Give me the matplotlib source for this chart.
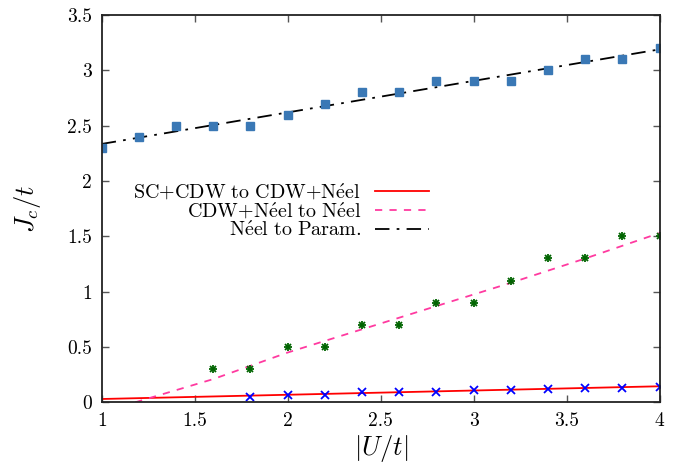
import numpy as np
import matplotlib
matplotlib.use('Agg')
import matplotlib.pyplot as plt

plt.rcParams['font.family'] = ['cmr10', 'DejaVu Serif']
plt.rcParams['mathtext.fontset'] = 'cm'
plt.rcParams['axes.formatter.use_mathtext'] = True
plt.rcParams['axes.unicode_minus'] = False

# Neel to Param. (squares + fit)
u_param = [1.0, 1.2, 1.4, 1.6, 1.8, 2.0, 2.2, 2.4, 2.6, 2.8, 3.0, 3.2, 3.4, 3.6, 3.8, 4.0]
j_param = [2.3, 2.4, 2.5, 2.5, 2.5, 2.6, 2.7, 2.8, 2.8, 2.9, 2.9, 2.9, 3.0, 3.1, 3.1, 3.2]
fit_param_u = [1.0, 4.0]
fit_param_j = [2.335, 3.19]

# CDW+Neel to Neel
u_neel = [1.6, 1.8, 2.0, 2.2, 2.4, 2.6, 2.8, 3.0, 3.2, 3.4, 3.6, 3.8, 4.0]
j_neel = [0.3, 0.3, 0.5, 0.5, 0.7, 0.7, 0.9, 0.9, 1.1, 1.3, 1.3, 1.5, 1.5]
fit_neel_u = [1.18, 1.6, 2.0, 2.4, 2.8, 3.2, 3.6, 4.0]
fit_neel_j = [0.0, 0.21, 0.45, 0.66, 0.87, 1.08, 1.30, 1.53]

# SC+CDW to CDW+Neel
u_sc = [1.8, 2.0, 2.2, 2.4, 2.6, 2.8, 3.0, 3.2, 3.4, 3.6, 3.8, 4.0]
j_sc = [0.05, 0.07, 0.07, 0.09, 0.09, 0.09, 0.11, 0.11, 0.12, 0.13, 0.13, 0.14]
fit_sc_u = [1.0, 4.0]
fit_sc_j = [0.03, 0.145]

labels = [r'$\mathrm{SC{+}CDW\ to\ CDW{+}N\acute{e}el}$',
          r'$\mathrm{CDW{+}N\acute{e}el\ to\ N\acute{e}el}$',
          r'$\mathrm{N\acute{e}el\ to\ Param.}$']

fig = plt.figure(figsize=(6.78, 4.70), dpi=100)
ax = fig.add_axes([0.150, 0.144, 0.823, 0.824])

ax.plot(fit_sc_u, fit_sc_j, color='#ff0000', lw=1.3, label=labels[0])
ax.plot(fit_neel_u, fit_neel_j, color='#ff3aa0', lw=1.3, ls=(0, (4, 4)), label=labels[1])
ax.plot(fit_param_u, fit_param_j, color='#000000', lw=1.3, ls=(0, (8, 4, 1.5, 4)), label=labels[2])

ax.plot(u_param, j_param, ls='none', marker='s', ms=5.2, color='#3a78b5')
ax.plot(u_neel, j_neel, ls='none', marker='x', ms=4.8, mew=1.3, color='#006400')
ax.plot(u_neel, j_neel, ls='none', marker='+', ms=5.8, mew=1.3, color='#006400')
ax.plot(u_sc, j_sc, ls='none', marker='x', ms=5.8, mew=1.3, color='#0000ff')

ax.set_xlim(1, 4)
ax.set_ylim(0, 3.5)
ax.set_xticks([1, 1.5, 2, 2.5, 3, 3.5, 4])
ax.set_xticklabels(['1', '1.5', '2', '2.5', '3', '3.5', '4'])
ax.set_yticks([0, 0.5, 1, 1.5, 2, 2.5, 3, 3.5])
ax.set_yticklabels(['0', '0.5', '1', '1.5', '2', '2.5', '3', '3.5'])
ax.tick_params(direction='in', top=True, right=True, length=5, width=1,
               color='#555555', labelsize=14, pad=7)
for s in ax.spines.values():
    s.set_linewidth(1.3)
    s.set_color('#222222')

ax.set_xlabel(r'$|U/t|$', fontsize=19, labelpad=2)
ax.set_ylabel(r'$J_c/t$', fontsize=19, labelpad=17)

leg = ax.legend(loc='upper right', bbox_to_anchor=(437 / 678, 1 - 174 / 470),
                bbox_transform=fig.transFigure, frameon=False, markerfirst=False,
                fontsize=14.5, handlelength=2.7, labelspacing=-0.05, borderaxespad=0,
                handletextpad=0.65)
leg._legend_box.align = 'right'

fig.savefig('out.png', dpi=100)
